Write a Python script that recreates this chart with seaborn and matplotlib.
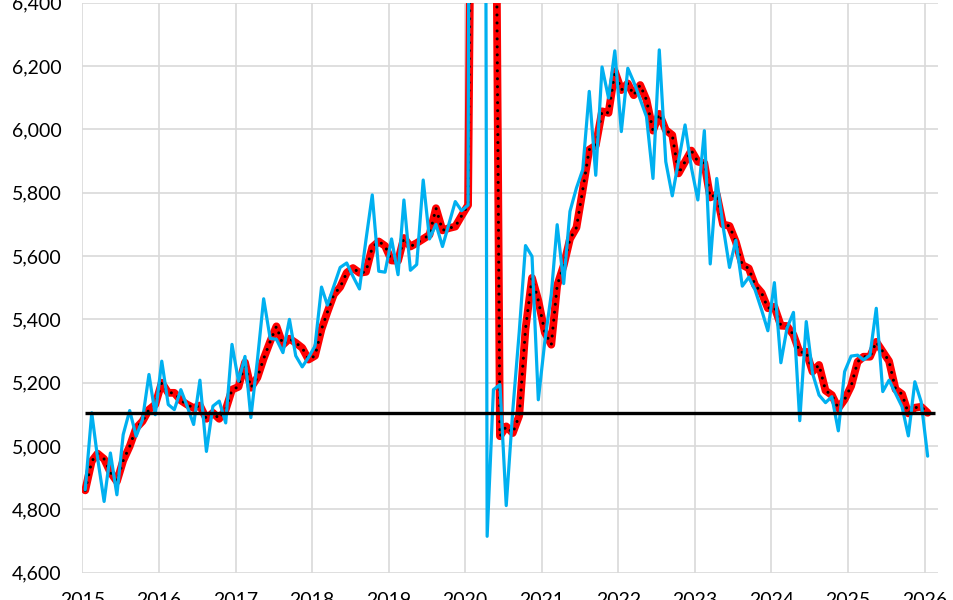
import pandas as pd
import numpy as np
import matplotlib
matplotlib.use('Agg')
import matplotlib.pyplot as plt
import matplotlib.dates as mdates
from matplotlib.ticker import FuncFormatter, MultipleLocator
import seaborn as sns


# monthly values, Jan 2015 .. Jan 2026
monthly = [
    4862, 5105, 4962, 4825, 4978, 4846, 5036, 5112, 5031, 5083, 5226, 5099,  # 2015
    5268, 5131, 5115, 5178, 5126, 5068, 5208, 4983, 5126, 5142, 5073, 5321,  # 2016
    5205, 5283, 5090, 5270, 5465, 5340, 5337, 5295, 5400, 5285, 5250, 5280,  # 2017
    5316, 5502, 5445, 5505, 5564, 5578, 5536, 5496, 5651, 5793, 5552, 5549,  # 2018
    5654, 5541, 5777, 5555, 5573, 5840, 5654, 5700, 5630, 5700, 5772, 5743,  # 2019
    5761, 13000, 14000, 4715, 5178, 5194, 4812, 5110, 5360, 5633, 5599, 5146,  # 2020
    5330, 5480, 5699, 5513, 5741, 5815, 5873, 6120, 5855, 6197, 6099, 6248,  # 2021
    5993, 6193, 6150, 6095, 6040, 5845, 6251, 5898, 5790, 5900, 6014, 5880,  # 2022
    5777, 5996, 5575, 5845, 5695, 5564, 5650, 5505, 5533, 5493, 5430, 5364,  # 2023
    5516, 5263, 5372, 5422, 5080, 5393, 5230, 5161, 5137, 5156, 5048, 5235,  # 2024
    5284, 5287, 5272, 5287, 5435, 5172, 5208, 5166, 5124, 5032, 5203, 5140,  # 2025
    4968,                                                                    # 2026
]

# 3-month average
avg3 = [
    4860, 4952, 4976, 4959, 4917, 4888, 4954, 4999, 5057, 5078, 5115, 5131,
    5200, 5168, 5168, 5144, 5131, 5120, 5128, 5086, 5105, 5086, 5115, 5178,
    5187, 5264, 5184, 5216, 5276, 5330, 5378, 5320, 5339, 5326, 5310, 5273,
    5285, 5369, 5423, 5479, 5502, 5547, 5562, 5547, 5550, 5628, 5646, 5632,
    5586, 5585, 5657, 5630, 5641, 5654, 5667, 5751, 5681, 5688, 5693, 5727,
    5761, 8170, 10920, 10570, 7960, 5031, 5062, 5041, 5096, 5370, 5531, 5460,
    5359, 5320, 5507, 5570, 5654, 5690, 5809, 5936, 5949, 6057, 6052, 6183,
    6124, 6145, 6108, 6140, 6093, 5996, 6049, 5998, 5982, 5861, 5898, 5933,
    5898, 5893, 5785, 5795, 5700, 5695, 5645, 5572, 5561, 5508, 5484, 5435,
    5440, 5380, 5379, 5351, 5295, 5298, 5235, 5256, 5175, 5161, 5119, 5147,
    5189, 5266, 5282, 5282, 5329, 5298, 5268, 5179, 5164, 5103, 5121, 5124,
    5105,
]

ref_level = 5105

dates = pd.date_range('2015-01-01', periods=len(monthly), freq='MS') + pd.Timedelta(days=14)
df = pd.DataFrame({'date': dates, 'monthly': monthly, 'avg3': avg3})

sns.set_style('white')
plt.rcParams['font.family'] = ['Lato', 'DejaVu Sans']

fig = plt.figure(figsize=(9.54, 6), dpi=100)
ax = fig.add_axes([82.3 / 954, 27.3 / 600, 855.4 / 954, 570 / 600])

sns.lineplot(data=df, x='date', y='avg3', ax=ax, color='#ff0000', linewidth=5.6,
             solid_joinstyle='round', zorder=3)
ax.plot(df['date'], df['avg3'], color='black', linewidth=2.2,
        linestyle=(0, (0.01, 2.6)), dash_capstyle='round', zorder=4)
sns.lineplot(data=df, x='date', y='monthly', ax=ax, color='#00b0f0', linewidth=2.3, zorder=5)
ax.hlines(ref_level, dates[0] - pd.Timedelta(days=3), pd.Timestamp('2026-02-20'),
          color='black', linewidth=2.4, zorder=6)

ax.set_ylim(4600, 6400)
ax.set_xlim(pd.Timestamp('2015-01-01'), pd.Timestamp('2026-03-04'))
ax.yaxis.set_major_locator(MultipleLocator(200))
ax.yaxis.set_major_formatter(FuncFormatter(lambda v, p: f'{v:,.0f}'))
ax.xaxis.set_major_locator(mdates.YearLocator())
ax.xaxis.set_major_formatter(mdates.DateFormatter('%Y'))

ax.grid(True, color='#d9d9d9', linewidth=1.2)
for s in ax.spines.values():
    s.set_visible(False)
ax.tick_params(axis='y', length=0, pad=15, labelsize=14, colors='black')
ax.tick_params(axis='x', length=4.5, width=1.2, color='#d9d9d9', pad=9.5, labelsize=14,
               labelcolor='black')
ax.set_xlabel('')
ax.set_ylabel('')

fig.savefig('out.png', dpi=100)
